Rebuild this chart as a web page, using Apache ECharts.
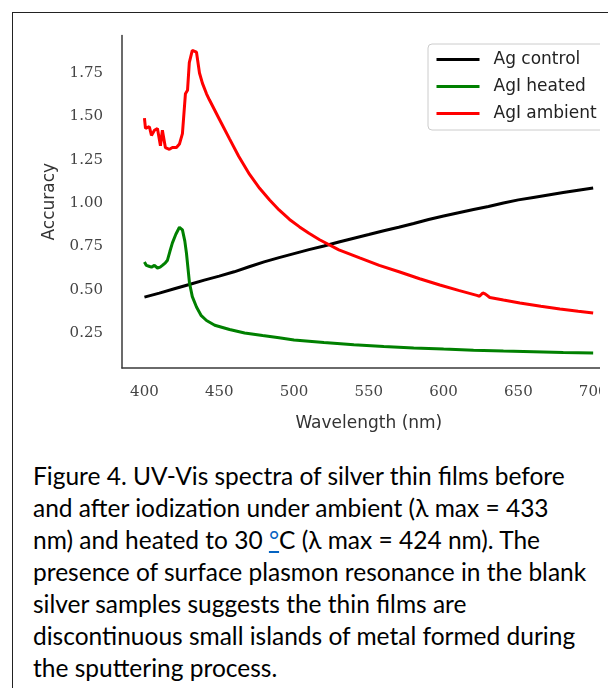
<!DOCTYPE html>
<html>
<head>
<meta charset="utf-8">
<script src="https://cdn.jsdelivr.net/npm/echarts@6/dist/echarts.min.js"></script>
<style>
html,body{margin:0;padding:0;background:#fff;}
#page{position:relative;width:608px;height:688px;overflow:hidden;background:#fff;}
#box{position:absolute;left:12px;top:12px;width:800px;height:900px;border-left:1px solid #222;border-top:1px solid #222;}
#chart{position:absolute;left:0;top:0;width:600px;height:440px;}
#caption{position:absolute;left:33px;top:460px;width:575px;font-family:Lato,"Open Sans",sans-serif;font-size:24.5px;line-height:32px;color:#000;white-space:nowrap;}
#caption .deg{color:#0563c1;text-decoration:underline;}
</style>
</head>
<body>
<div id="page">
  <div id="box"></div>
  <div id="chart"></div>
  <div id="caption">Figure 4. UV-Vis spectra of silver thin films before<br>and after iodization under ambient (λ max = 433<br>nm) and heated to 30 <span class="deg">°</span>C (λ max = 424 nm). The<br>presence of surface plasmon resonance in the blank<br>silver samples suggests the thin films are<br>discontinuous small islands of metal formed during<br>the sputtering process.</div>
</div>
<script>
// ---- data ----
const seriesNames = ["Ag control", "AgI heated", "AgI ambient"];
const xTicks = [400, 450, 500, 550, 600, 650, 700];
const yTicks = [0.25, 0.50, 0.75, 1.00, 1.25, 1.50, 1.75];

const controlX = [400,410,420,430,440,450,460,470,480,490,500,510,520,530,540,550,560,570,580,590,600,610,620,630,640,650,660,670,680,690,700];
const controlY = [0.457,0.48,0.505,0.53,0.555,0.578,0.603,0.632,0.66,0.685,0.708,0.731,0.752,0.775,0.797,0.818,0.84,0.86,0.882,0.905,0.925,0.944,0.962,0.98,1.0,1.018,1.032,1.046,1.06,1.074,1.087];

const heatedX = [400,401.3,403,404.7,406.7,408.7,410.5,412,414,415.4,417,418.7,421,423.4,425.4,427,428.1,430.1,432,434.8,438,441.5,447,456.9,467,479,490,500,520,540,560,580,600,620,640,660,680,700];
const heatedY = [0.66,0.64,0.635,0.63,0.64,0.625,0.63,0.64,0.655,0.67,0.72,0.77,0.82,0.86,0.845,0.78,0.71,0.54,0.46,0.40,0.35,0.322,0.295,0.27,0.25,0.235,0.222,0.21,0.195,0.182,0.172,0.164,0.157,0.151,0.146,0.142,0.138,0.135];

const ambientX = [400,400.7,402,403.3,404.7,406.7,408.7,410.7,412,414,416.7,418.7,420,421.4,423.4,425.4,427.4,428.8,430,432,433,434.8,436.8,438.8,441.5,443.5,450,456.9,463,470.3,477,483.7,490,497,503.7,510,517.1,530,543.9,557,570.7,584,597.5,610,622.2,624,626.2,628,630.9,640,651,665,677.8,690,700];
const ambientY = [1.49,1.43,1.42,1.44,1.39,1.42,1.43,1.33,1.42,1.32,1.31,1.32,1.31,1.32,1.34,1.40,1.63,1.65,1.81,1.88,1.89,1.87,1.75,1.69,1.63,1.594,1.485,1.37,1.27,1.165,1.085,1.017,0.96,0.905,0.862,0.825,0.788,0.73,0.683,0.64,0.602,0.563,0.527,0.496,0.467,0.462,0.481,0.474,0.455,0.44,0.423,0.404,0.388,0.375,0.365];

function pairs(xs, ys){ return xs.map((x,i)=>[x, ys[i]]); }

const chart = echarts.init(document.getElementById('chart'), null, {width:600, height:440, renderer:'canvas'});
const axisColor = '#3a3a3a';
chart.setOption({
  animation: false,
  backgroundColor: 'transparent',
  grid: {left:122, top:35.4, width:493.6, height:332.6, containLabel:false, outerBoundsMode:'none'},
  legend: {
    orient:'vertical', left:428, top:44,
    itemWidth:43, itemHeight:18, itemGap:10,
    padding:[7,40,8,7],
    borderColor:'#cccccc', borderWidth:1, borderRadius:4,
    backgroundColor:'#fff',
    itemStyle:{opacity:0},
    lineStyle:{width:3},
    textStyle:{fontFamily:'DejaVu Sans', fontSize:17, color:'#222', padding:[0,0,0,9]},
    data: seriesNames
  },
  xAxis: {
    type:'value', min:385, max:715,
    axisLine:{show:true, lineStyle:{color:axisColor, width:1.5}},
    axisTick:{show:false},
    splitLine:{show:false},
    axisLabel:{customValues:xTicks, margin:17, color:'#444', fontFamily:'DejaVu Serif', fontSize:15, formatter:v=>String(Math.round(v))},
    name:'Wavelength (nm)', nameLocation:'middle', nameGap:47,
    nameTextStyle:{fontFamily:'DejaVu Sans', fontSize:17, color:'#333'}
  },
  yAxis: {
    type:'value', min:0.048, max:1.967,
    axisLine:{show:true, lineStyle:{color:axisColor, width:1.5}},
    axisTick:{show:false},
    splitLine:{show:false},
    axisLabel:{customValues:yTicks, margin:19, color:'#444', fontFamily:'DejaVu Serif', fontSize:15, formatter:v=>v.toFixed(2)},
    name:'Accuracy', nameLocation:'middle', nameGap:64, nameRotate:90,
    nameTextStyle:{fontFamily:'DejaVu Sans', fontSize:17, color:'#333'}
  },
  series: [
    {name:seriesNames[0], type:'line', symbol:'none', data:pairs(controlX, controlY), lineStyle:{width:3, color:'#000'}, itemStyle:{color:'#000'}, z:2},
    {name:seriesNames[1], type:'line', symbol:'none', data:pairs(heatedX, heatedY), lineStyle:{width:3, color:'#008000'}, itemStyle:{color:'#008000'}, z:3},
    {name:seriesNames[2], type:'line', symbol:'none', data:pairs(ambientX, ambientY), lineStyle:{width:3, color:'#ff0000'}, itemStyle:{color:'#ff0000'}, z:4}
  ]
});
</script>
</body>
</html>
